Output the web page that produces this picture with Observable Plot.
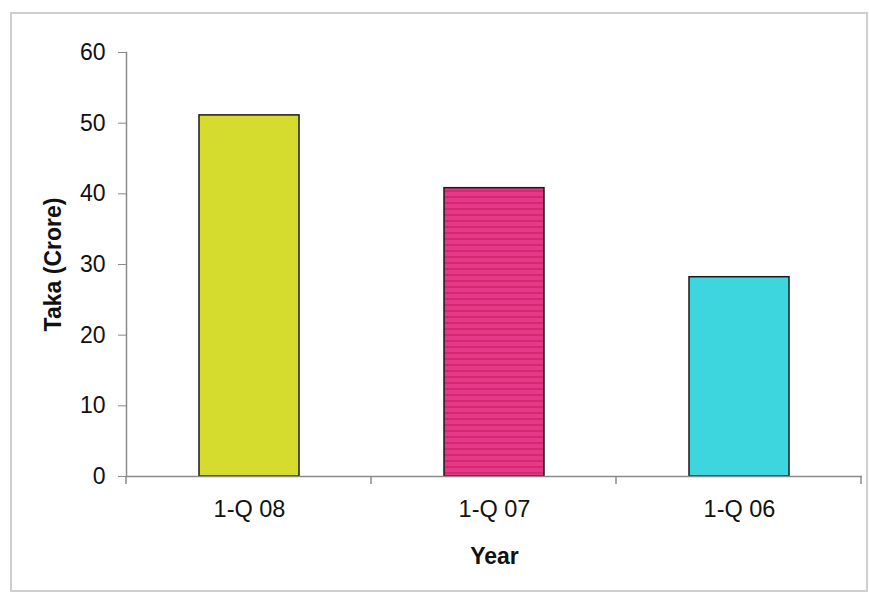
<!DOCTYPE html>
<html><head><meta charset="utf-8">
<script src="https://cdn.jsdelivr.net/npm/d3@7"></script>
<script src="https://cdn.jsdelivr.net/npm/@observablehq/plot@0.6"></script>
<style>
body{margin:0;background:#fff}
#wrap{position:relative;width:869px;height:597px}
#border{position:absolute;left:10px;top:12px;width:854px;height:576px;border:2px solid #cfcfcf;box-sizing:content-box}
#chart{position:absolute;left:0;top:0}
</style>
</head><body>
<div id="wrap"><div id="border"></div><div id="chart"></div></div>
<script>
const categories = ["1-Q 08", "1-Q 07", "1-Q 06"];
const values = [51.1, 40.8, 28.2];
const colors = ["#d5dc2e", "url(#pinkStripes)", "#3dd6de"];
const yTicks = [0, 10, 20, 30, 40, 50, 60];
const yLabel = "Taka (Crore)";
const xLabel = "Year";

const data = categories.map((c, i) => ({year: c, value: values[i], color: colors[i]}));

const plot = Plot.plot({
  width: 869, height: 597,
  marginLeft: 126, marginRight: 7, marginTop: 52, marginBottom: 121,
  style: {fontFamily: "'Liberation Sans', Arial, sans-serif", fontSize: "23px", color: "#111", background: "transparent", overflow: "visible"},
  x: {domain: categories, paddingInner: 0.592, paddingOuter: 0.296, label: null},
  y: {domain: [0, 60], label: null},
  color: {type: "identity"},
  marks: [
    Plot.barY(data, {x: "year", y: "value", fill: "color", stroke: "#1a1a1a", strokeWidth: 1.5}),
    Plot.frame({anchor: "left", stroke: "#8a8a8a", strokeWidth: 1.5}),
    Plot.ruleY([0], {stroke: "#8a8a8a", strokeWidth: 1.5}),
    Plot.axisY(yTicks, {tickSize: 8, tickPadding: 13, stroke: "#8a8a8a", fill: "#111", fontSize: 23, label: null}),
    Plot.axisX({tickSize: 0, tickPadding: 24, fill: "#111", fontSize: 23.5, label: null}),
    Plot.text([yLabel], {frameAnchor: "left", textAnchor: "middle", lineAnchor: "middle", rotate: -90, dx: -73, fontWeight: "bold", fill: "#111", fontSize: 23}),
    Plot.text([xLabel], {frameAnchor: "bottom", textAnchor: "middle", lineAnchor: "middle", dy: 80, fontWeight: "bold", fill: "#111", fontSize: 23, letterSpacing: "1px"})
  ]
});

document.getElementById("chart").appendChild(plot);

const svg = d3.select(plot);
const defs = svg.insert("defs", ":first-child");
const pat = defs.append("pattern").attr("id", "pinkStripes").attr("patternUnits", "userSpaceOnUse").attr("width", 8).attr("height", 6);
pat.append("rect").attr("width", 8).attr("height", 6).attr("fill", "#e63887");
pat.append("rect").attr("y", 4).attr("width", 8).attr("height", 2).attr("fill", "#cf2a72");

// category boundary ticks derived from the x band scale
const sx = plot.scale("x");
const sy = plot.scale("y");
const y0 = sy.apply(0);
const r0 = Math.min(...sx.range);
const bounds = d3.range(categories.length + 1).map(k => r0 + k * sx.step);
svg.append("g").attr("stroke", "#8a8a8a").attr("stroke-width", 1.5)
  .selectAll("line").data(bounds).join("line")
  .attr("x1", d => d).attr("x2", d => d).attr("y1", y0).attr("y2", y0 + 8);
</script>
</body></html>
